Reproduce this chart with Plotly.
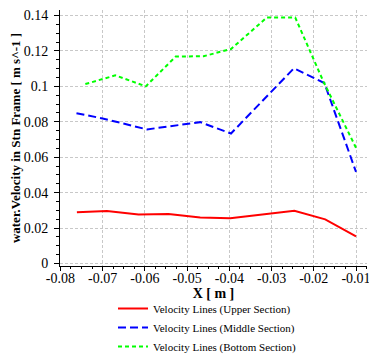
import plotly.graph_objects as go

# Data
upper_x = [-0.0761, -0.0690, -0.0615, -0.0544, -0.0469, -0.0398, -0.0246, -0.0173, -0.0100]
upper_y = [0.0290, 0.0296, 0.0277, 0.0279, 0.0260, 0.0255, 0.0298, 0.0249, 0.0153]

middle_x = [-0.0762, -0.0700, -0.0595, -0.0469, -0.0396, -0.0247, -0.0175, -0.0100]
middle_y = [0.0848, 0.0819, 0.0757, 0.0798, 0.0734, 0.1102, 0.1019, 0.0517]

bottom_x = [-0.0741, -0.0670, -0.0598, -0.0527, -0.0461, -0.0396, -0.0311, -0.0244, -0.0177, -0.0100]
bottom_y = [0.1013, 0.1062, 0.1000, 0.1168, 0.1170, 0.1211, 0.1389, 0.1389, 0.1026, 0.0653]

series_names = ["Velocity Lines (Upper Section)",
                "Velocity Lines (Middle Section)",
                "Velocity Lines (Bottom Section)"]

x_ticks = [-0.08, -0.07, -0.06, -0.05, -0.04, -0.03, -0.02, -0.01]
x_ticktext = ["-0.08", "-0.07", "-0.06", "-0.05", "-0.04", "-0.03", "-0.02", "-0.01"]
y_ticks = [0, 0.02, 0.04, 0.06, 0.08, 0.10, 0.12, 0.14]
y_ticktext = ["0", "0.02", "0.04", "0.06", "0.08", "0.1", "0.12", "0.14"]

FONT = "Liberation Serif"

fig = go.Figure()
fig.add_trace(go.Scatter(x=upper_x, y=upper_y, mode="lines", name=series_names[0],
                         line=dict(color="#ff0000", width=2)))
fig.add_trace(go.Scatter(x=middle_x, y=middle_y, mode="lines", name=series_names[1],
                         line=dict(color="#0000ff", width=2, dash="8px,4px")))
fig.add_trace(go.Scatter(x=bottom_x, y=bottom_y, mode="lines", name=series_names[2],
                         line=dict(color="#00ff00", width=2, dash="4px,3px")))

# plot area: x 60..367 px, y 10..266 px
fig.update_layout(
    width=369, height=354,
    margin=dict(l=60, r=2, t=10, b=88, autoexpand=False),
    paper_bgcolor="white", plot_bgcolor="white",
    font=dict(family=FONT, size=14, color="black"),
    showlegend=True,
    legend=dict(orientation="v", x=(113 - 60) / 307, xanchor="left",
                y=(266 - 294) / 256, yanchor="top",
                font=dict(family=FONT, size=11, color="black"),
                bgcolor="rgba(0,0,0,0)"),
)
fig.update_xaxes(
    automargin=False,
    range=[-0.0801, -0.0074],
    tickvals=x_ticks, ticktext=x_ticktext,
    ticks="outside", ticklen=4, tickcolor="black",
    ticklabelstandoff=-5, ticklabeloverflow="allow",
    minor=dict(dtick=0.0025, tick0=-0.08, ticks="outside", ticklen=2, tickcolor="black", showgrid=False),
    showline=True, linecolor="black", linewidth=1,
    showgrid=True, gridcolor="#c8c8c8", griddash="3px,2px", gridwidth=1,
    zeroline=False,
    tickfont=dict(family=FONT, size=14),
    title=dict(text="<b>X [ m ]</b>", font=dict(family=FONT, size=14), standoff=1),
)
fig.update_yaxes(
    automargin=False,
    range=[-0.0014, 0.1431],
    tickvals=y_ticks, ticktext=y_ticktext,
    ticks="outside", ticklen=5, tickcolor="black",
    ticklabelstandoff=3, ticklabeloverflow="allow",
    minor=dict(dtick=0.005, tick0=0, ticks="outside", ticklen=3, tickcolor="black", showgrid=False),
    showline=True, linecolor="black", linewidth=1,
    showgrid=True, gridcolor="#c8c8c8", griddash="3px,2px", gridwidth=1,
    zeroline=False,
    tickfont=dict(family=FONT, size=14),
    title=dict(text="<b>water.Velocity in Stn Frame [ m s^-1 ]</b>", font=dict(family=FONT, size=13), standoff=0),
)

fig.write_html("out.html", config={"displayModeBar": False},
               post_script="document.body.style.margin='0';document.body.style.overflow='hidden';")
